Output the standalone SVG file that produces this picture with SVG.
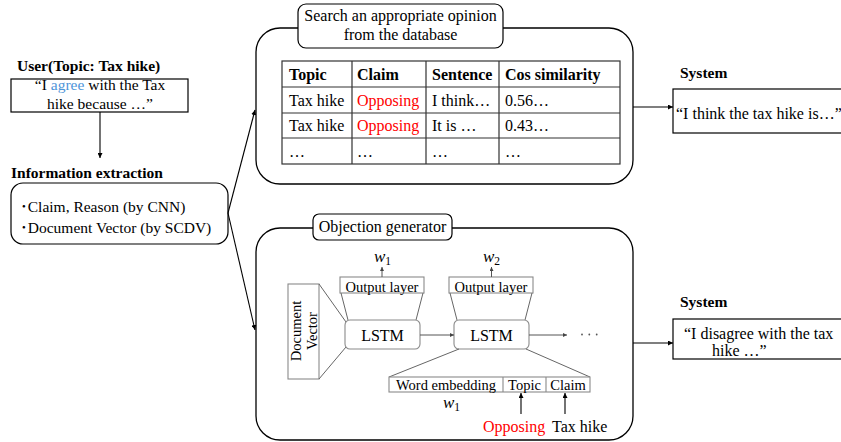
<svg xmlns="http://www.w3.org/2000/svg" width="841" height="442" viewBox="0 0 841 442">
<defs>
<marker id="ah" viewBox="0 0 10 10" refX="10" refY="5" markerWidth="5" markerHeight="5" orient="auto" markerUnits="userSpaceOnUse">
<path d="M0,0 L10,5 L0,10 z" fill="#000"/>
</marker>
<marker id="ahg" viewBox="0 0 10 10" refX="10" refY="5" markerWidth="4" markerHeight="4" orient="auto" markerUnits="userSpaceOnUse">
<path d="M0,0 L10,5 L0,10 z" fill="#444"/>
</marker>
</defs>
<style>
text{font-family:"Liberation Serif","Noto Sans CJK JP",serif;font-size:15.5px;fill:#000}
.b{font-weight:bold}
.s{font-size:14.5px}
.m{font-size:16px}
.red{fill:#f00}
.blue{fill:#4e95d9}
.w{font-style:italic;font-size:17px}
.sub{font-size:11.5px;font-style:normal}
.box{fill:#fff;stroke:#000;stroke-width:1.2}
.big{fill:#fff;stroke:#000;stroke-width:1.3}
.tbl{fill:none;stroke:#333;stroke-width:1.2}
.g{fill:#fff;stroke:#8a8a8a;stroke-width:1.1}
.gl{fill:none;stroke:#666;stroke-width:1}
.c{fill:none;stroke:#000;stroke-width:1.1}
.cg{fill:none;stroke:#555;stroke-width:1}
</style>

<g id="user">
<text class="b" x="17" y="71">User(Topic: Tax hike)</text>
<rect class="box" x="11" y="79" width="177" height="33"/>
<text x="100" y="90" text-anchor="middle">“I <tspan class="blue">agree</tspan> with the Tax</text>
<text x="100" y="108.5" text-anchor="middle">hike because …”</text>
</g>

<g id="extraction">
<text class="b" x="11" y="178">Information extraction</text>
<rect class="box" x="11" y="183" width="217" height="61" rx="12"/>
<text x="20" y="212">･Claim, Reason (by CNN)</text>
<text x="20" y="233">･Document Vector (by SCDV)</text>
</g>

<g id="search">
<rect class="big" x="256" y="28" width="377" height="156" rx="24"/>
<rect class="box" x="298" y="4" width="205" height="44" rx="8"/>
<text x="400.5" y="21" text-anchor="middle" class="m">Search an appropriate opinion</text>
<text x="400.5" y="39.5" text-anchor="middle" class="m">from the database</text>
<rect class="tbl" x="282" y="61" width="338" height="103"/>
<path class="tbl" d="M352,61 V164 M426,61 V164 M499,61 V164 M282,87 H620 M282,113 H620 M282,138 H620"/>
<text class="b m" x="289" y="80">Topic</text>
<text class="b m" x="357" y="80">Claim</text>
<text class="b m" x="432" y="80">Sentence</text>
<text class="b m" x="505" y="80">Cos similarity</text>
<text class="m" x="289" y="106">Tax hike</text>
<text class="m red" x="357" y="106">Opposing</text>
<text class="m" x="432" y="106">I think…</text>
<text class="m" x="505" y="106">0.56…</text>
<text class="m" x="289" y="131">Tax hike</text>
<text class="m red" x="357" y="131">Opposing</text>
<text class="m" x="432" y="131">It is …</text>
<text class="m" x="505" y="131">0.43…</text>
<text class="m" x="289" y="157">…</text>
<text class="m" x="357" y="157">…</text>
<text class="m" x="432" y="157">…</text>
<text class="m" x="505" y="157">…</text>
</g>

<g id="system1">
<text class="b" x="680" y="78">System</text>
<rect class="box" x="673" y="89" width="180" height="44"/>
<text class="m" x="676" y="118.5">“I think the tax hike is…”</text>
</g>

<g id="generator">
<rect class="big" x="256" y="228" width="377" height="212" rx="24"/>
<rect class="box" x="313" y="214" width="139" height="26" rx="6"/>
<text class="m" x="382.5" y="232.3" text-anchor="middle">Objection generator</text>

<g id="docvec">
<rect class="g" x="288" y="284" width="31" height="95"/>
<g transform="translate(303,331) rotate(-90)">
<text class="s" x="0" y="-2" text-anchor="middle">Document</text>
<text class="s" x="0" y="13.5" text-anchor="middle">Vector</text>
</g>
</g>
<path class="gl" d="M319,284 L346,322 M319,379 L346,347"/>

<g id="out1">
<rect class="g" x="340" y="277" width="84" height="16"/>
<text class="s" x="382" y="291.5" text-anchor="middle">Output layer</text>
</g>
<path class="gl" d="M341,293 L348,320 M423,293 L416,320"/>
<g id="lstm1">
<rect class="g" x="345" y="320" width="75" height="29" rx="5"/>
<text class="m" x="382.5" y="340.5" text-anchor="middle">LSTM</text>
</g>
<text class="w" x="374" y="262">w<tspan class="sub" dy="3">1</tspan></text>

<g id="out2">
<rect class="g" x="449" y="277" width="84" height="16"/>
<text class="s" x="491" y="291.5" text-anchor="middle">Output layer</text>
</g>
<path class="gl" d="M450,293 L457,320 M532,293 L525,320"/>
<g id="lstm2">
<rect class="g" x="454" y="320" width="75" height="29" rx="5"/>
<text class="m" x="491.5" y="340.5" text-anchor="middle">LSTM</text>
</g>
<text class="w" x="483" y="262">w<tspan class="sub" dy="3">2</tspan></text>

<path class="gl" d="M459,349 L389,377 M526,349 L590,377"/>
<g id="embedding">
<rect class="g" x="389" y="377" width="201" height="15"/>
<path class="g" d="M503,377 V392 M546,377 V392"/>
<text class="s" x="446" y="389.5" text-anchor="middle">Word embedding</text>
<text class="s" x="524.5" y="389.5" text-anchor="middle">Topic</text>
<text class="s" x="568" y="389.5" text-anchor="middle">Claim</text>
</g>
<text class="w" x="443" y="408">w<tspan class="sub" dy="3">1</tspan></text>
<text class="m red" x="483" y="431.7">Opposing</text>
<text class="m" x="552" y="431.7">Tax hike</text>
<g fill="#555">
<circle cx="582" cy="334.5" r="0.9"/>
<circle cx="589.3" cy="334.5" r="0.9"/>
<circle cx="596.7" cy="334.5" r="0.9"/>
</g>
</g>

<g id="system2">
<text class="b" x="680" y="307">System</text>
<rect class="box" x="673" y="319" width="180" height="40"/>
<text class="m" x="684" y="338.5">“I disagree with the tax</text>
<text class="m" x="712" y="356">hike …”</text>
</g>

<g id="connectors">
<path class="c" d="M100,112 V158" marker-end="url(#ah)"/>
<path class="c" d="M228,213 L255,110" marker-end="url(#ah)"/>
<path class="c" d="M228,213 L255,330" marker-end="url(#ah)"/>
<path class="c" d="M633,107 H673" marker-end="url(#ah)"/>
<path class="c" d="M633,343 H673" marker-end="url(#ah)"/>
<path class="cg" d="M420,335 H454" marker-end="url(#ahg)"/>
<path class="cg" d="M529,335 H567" marker-end="url(#ahg)"/>
<path class="cg" d="M382,277 V267" marker-end="url(#ahg)"/>
<path class="cg" d="M491.5,277 V267" marker-end="url(#ahg)"/>
<path class="c" d="M521,414 V393" marker-end="url(#ah)"/>
<path class="c" d="M565,414 V393" marker-end="url(#ah)"/>
</g>
</svg>
